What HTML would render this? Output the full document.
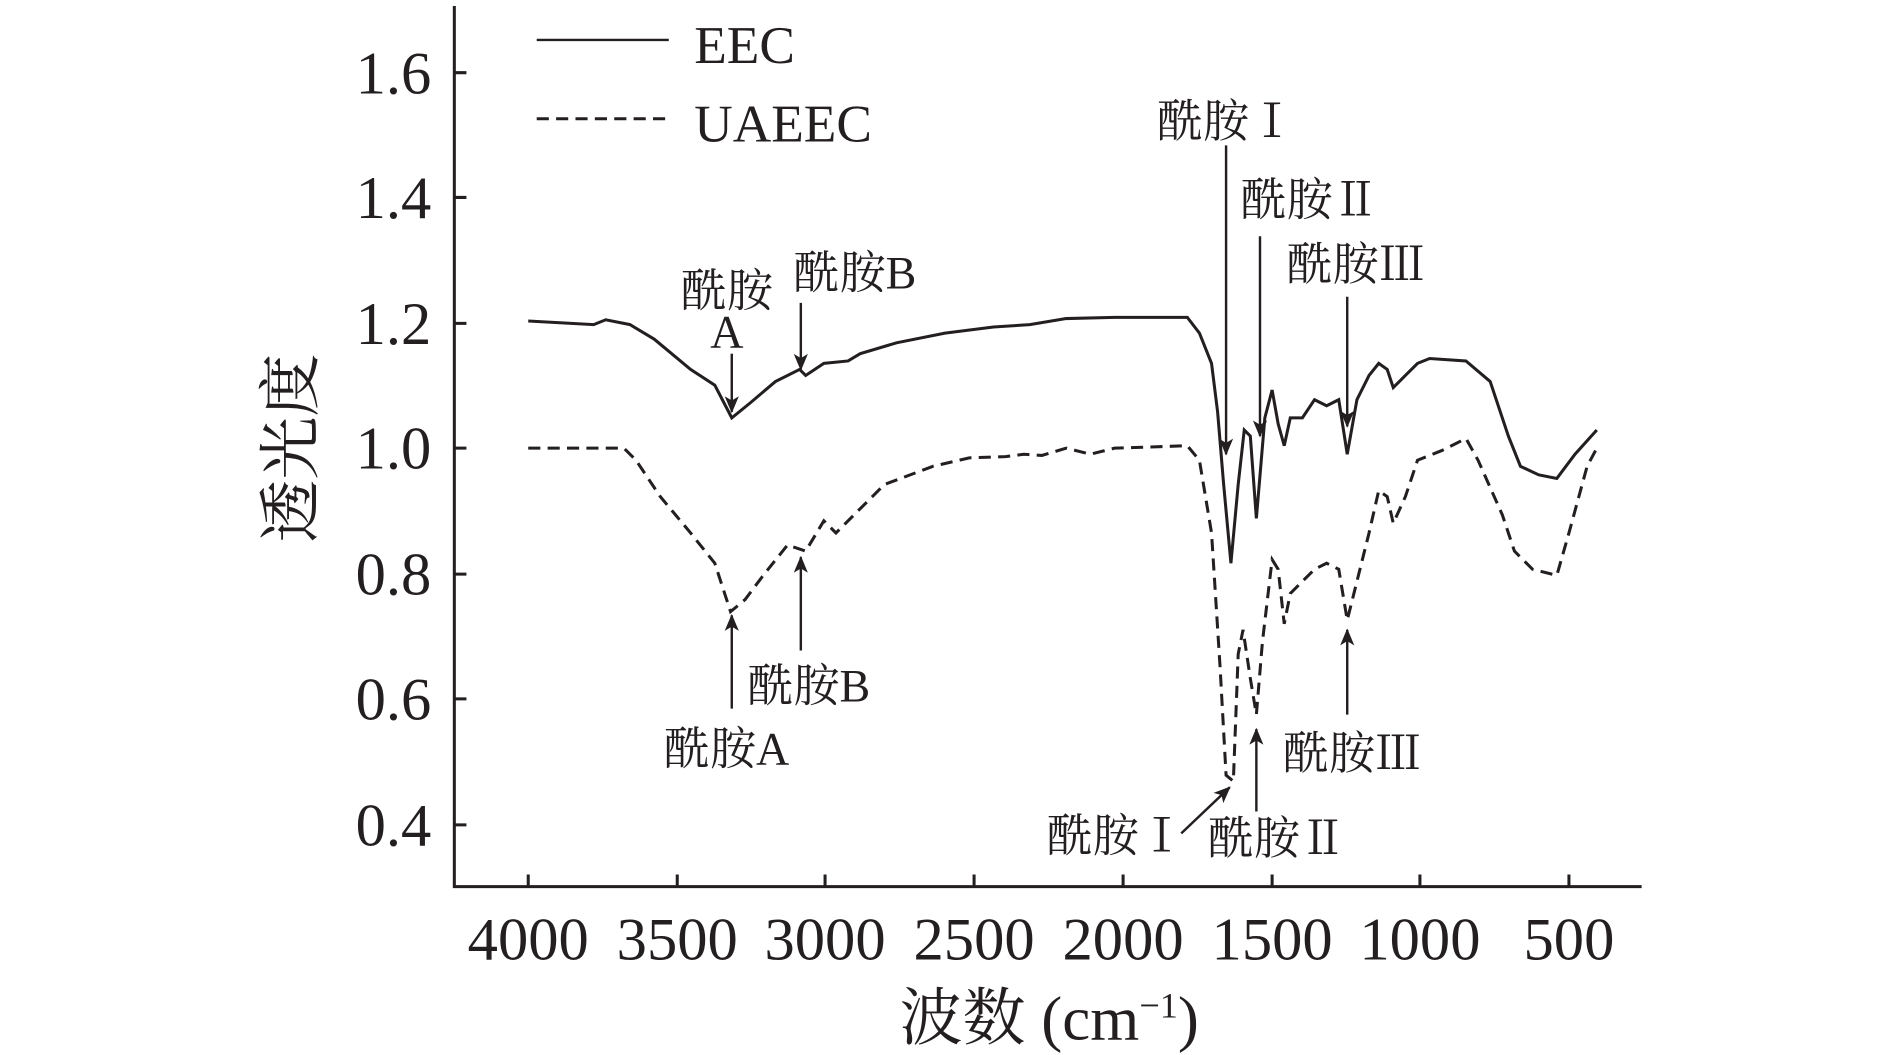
<!DOCTYPE html>
<html><head><meta charset="utf-8"><style>
html,body{margin:0;padding:0;background:#fff;}
svg{display:block}
text{font-family:"Liberation Serif","Noto Serif CJK SC",serif;fill:#231f20}
</style></head><body>
<svg width="1890" height="1055" viewBox="0 0 1560 871" preserveAspectRatio="none" xmlns="http://www.w3.org/2000/svg">
<defs>
<marker id="ah2" viewBox="0 0 12 12" markerWidth="14" markerHeight="18" refX="11" refY="6" orient="auto" markerUnits="userSpaceOnUse"><path d="M0,1 L12,6 L0,11 L3,6 Z" fill="#231f20"/></marker></defs>
<g stroke="#231f20" stroke-width="2.5" fill="none">
<path d="M375,5 V732 H1355"/>
<path d="M375,60 h10 M375,163 h10 M375,267 h10 M375,370 h10 M375,474 h10 M375,577 h10 M375,681 h10"/>
<path d="M436,732 v-10 M559,732 v-10 M681,732 v-10 M804,732 v-10 M927,732 v-10 M1050,732 v-10 M1172,732 v-10 M1295,732 v-10"/>
</g>
<g font-size="50" text-anchor="end">
<text x="356" y="77">1.6</text><text x="356" y="180">1.4</text><text x="356" y="284">1.2</text><text x="356" y="387">1.0</text><text x="356" y="491">0.8</text><text x="356" y="594">0.6</text><text x="356" y="698">0.4</text>
</g>
<g font-size="50" text-anchor="middle">
<text x="436" y="792">4000</text><text x="559" y="792">3500</text><text x="681" y="792">3000</text><text x="804" y="792">2500</text><text x="927" y="792">2000</text><text x="1050" y="792">1500</text><text x="1172" y="792">1000</text><text x="1295" y="792">500</text>
</g>
<text x="866" y="858" font-size="52" text-anchor="middle">波数 (cm<tspan font-size="30" dy="-18">−1</tspan><tspan dy="18">)</tspan></text>
<text transform="translate(258,370) rotate(-90)" font-size="52" text-anchor="middle">透光度</text>
<line x1="443" y1="33" x2="552" y2="33" stroke="#231f20" stroke-width="2"/>
<text x="573" y="52" font-size="44">EEC</text>
<line x1="443" y1="98" x2="552" y2="98" stroke="#231f20" stroke-width="2.5" stroke-dasharray="10,6"/>
<text x="573" y="117" font-size="44">UAEEC</text>
<path fill="none" stroke="#231f20" stroke-width="2.5" d="M436,265 L490,268 L500,264 L520,268 L540,280 L570,305 L590,318 L604,345 L620,332 L640,315 L660,305 L665,310 L680,300 L700,298 L710,292 L740,283 L780,275 L820,270 L850,268 L880,263 L920,262 L980,262 L990,275 L1000,300 L1005,340 L1010,400 L1016,465 L1022,400 L1027,355 L1032,360 L1037,428 L1044,345 L1050,322 L1055,350 L1060,368 L1065,345 L1075,345 L1085,330 L1095,335 L1105,330 L1112,375 L1120,330 L1130,310 L1138,300 L1145,305 L1150,320 L1160,310 L1170,300 L1180,296 L1210,298 L1230,315 L1245,360 L1255,385 L1270,392 L1285,395 L1300,375 L1318,355"/>
<path fill="none" stroke="#231f20" stroke-width="2.5" stroke-dasharray="10,6" d="M436,370 L515,370 L525,380 L545,410 L570,440 L590,465 L603,505 L615,495 L630,475 L650,450 L665,455 L680,430 L690,440 L705,425 L730,400 L770,385 L800,378 L830,377 L845,375 L860,376 L880,370 L900,375 L920,370 L980,368 L990,380 L1000,440 L1007,550 L1012,640 L1018,645 L1022,540 L1026,520 L1032,560 L1037,590 L1042,530 L1050,462 L1055,470 L1060,515 L1065,490 L1075,480 L1085,470 L1095,465 L1105,470 L1112,512 L1120,480 L1130,440 L1138,405 L1145,410 L1150,432 L1160,410 L1170,380 L1190,372 L1210,362 L1220,380 L1240,425 L1250,455 L1265,470 L1285,475 L1295,440 L1310,385 L1318,370"/>
<g stroke="#231f20" stroke-width="2" marker-end="url(#ah2)">
<line x1="604" y1="292" x2="604" y2="340"/>
<line x1="661" y1="250" x2="661" y2="305"/>
<line x1="604" y1="585" x2="604" y2="508"/>
<line x1="661" y1="537" x2="661" y2="460"/>
<line x1="1012" y1="120" x2="1012" y2="375"/>
<line x1="1040" y1="195" x2="1040" y2="360"/>
<line x1="1112" y1="245" x2="1112" y2="352"/>
<line x1="975" y1="688" x2="1015" y2="650"/>
<line x1="1037" y1="670" x2="1037" y2="602"/>
<line x1="1112" y1="590" x2="1112" y2="520"/>
</g>
<g font-size="38">
<text x="600" y="253" text-anchor="middle">酰胺</text>
<text x="600" y="287" text-anchor="middle">A</text>
<text x="655" y="238">酰胺B</text>
<text x="617" y="579">酰胺B</text>
<text x="548" y="631">酰胺A</text>
<text x="955" y="113">酰胺Ⅰ</text>
<text x="1024" y="178">酰胺Ⅱ</text>
<text x="1062" y="231">酰胺Ⅲ</text>
<text x="864" y="703">酰胺Ⅰ</text>
<text x="997" y="705">酰胺Ⅱ</text>
<text x="1059" y="635">酰胺Ⅲ</text>
</g>
</svg>
</body></html>
